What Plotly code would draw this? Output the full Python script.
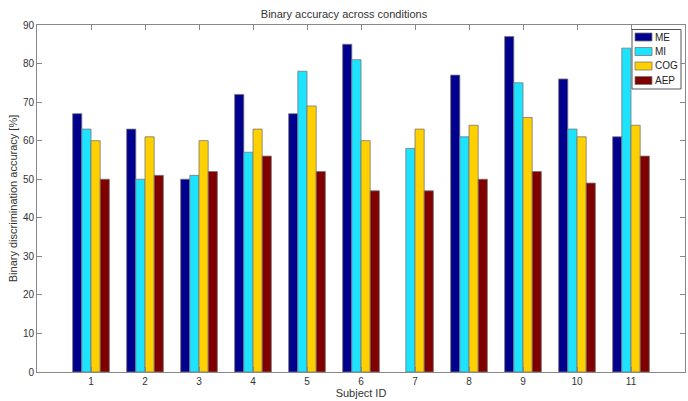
import plotly.graph_objects as go

subjects = [1, 2, 3, 4, 5, 6, 7, 8, 9, 10, 11]
series_names = ["ME", "MI", "COG", "AEP"]
me = [67, 63, 50, 72, 67, 85, None, 77, 87, 76, 61]
mi = [63, 50, 51, 57, 78, 81, 58, 61, 75, 63, 84]
cog = [60, 61, 60, 63, 69, 60, 63, 64, 66, 61, 64]
aep = [50, 51, 52, 56, 52, 47, 47, 50, 52, 49, 56]
y_ticks = [0, 10, 20, 30, 40, 50, 60, 70, 80, 90]

colors = ["#00008F", "#1EE3FF", "#FFD000", "#800000"]
values = [me, mi, cog, aep]

W, H = 688, 401
ML, MR, MT, MB = 37, 3, 25, 29
PW, PH = W - ML - MR, H - MT - MB

def px(x):
    return (x - ML) / PW

def py(y):
    return 1 - (y - MT) / PH

fig = go.Figure()
for name, vals, col in zip(series_names, values, colors):
    fig.add_trace(go.Bar(
        x=subjects, y=vals, name=name, showlegend=False,
        marker=dict(color=col, line=dict(color="#777777", width=0.8)),
    ))

# legend box (drawn manually to match compact MATLAB legend)
shapes = [dict(type="rect", xref="paper", yref="paper",
               x0=px(632), x1=px(681), y0=py(89), y1=py(29.5),
               fillcolor="white", line=dict(color="#555555", width=1))]
annotations = []
for i, (name, col) in enumerate(zip(series_names, colors)):
    top = 33 + i * 14.5
    shapes.append(dict(type="rect", xref="paper", yref="paper",
                       x0=px(635), x1=px(652), y0=py(top + 8), y1=py(top),
                       fillcolor=col, line=dict(color="#777777", width=0.8)))
    annotations.append(dict(text=name, xref="paper", yref="paper",
                            x=px(653), y=py(top + 4), xanchor="left", yanchor="middle",
                            showarrow=False, font=dict(size=10, color="#222222")))

font = "Liberation Sans, Arial, sans-serif"
fig.update_layout(
    width=W, height=H,
    margin=dict(l=ML, r=MR, t=MT, b=MB),
    paper_bgcolor="white", plot_bgcolor="white",
    barmode="group", bargap=0.32, bargroupgap=0.0,
    font=dict(family=font, size=10, color="#333333"),
    title=dict(text="Binary accuracy across conditions", x=0.5, xanchor="center",
               y=0.975, yanchor="top", font=dict(size=11, color="#333333")),
    xaxis=dict(range=[0, 12], tickmode="array", tickvals=subjects,
               ticktext=[str(s) for s in subjects],
               ticks="inside", ticklen=5, tickcolor="#888888",
               showline=True, linecolor="#888888", linewidth=1, mirror="ticks",
               showgrid=False, zeroline=False,
               title=dict(text="Subject ID", standoff=3, font=dict(size=11))),
    yaxis=dict(range=[0, 90], tickmode="array", tickvals=y_ticks,
               ticks="inside", ticklen=5, tickcolor="#888888",
               showline=True, linecolor="#888888", linewidth=1, mirror="ticks",
               showgrid=False, zeroline=False,
               title=dict(text="Binary discrimination accuracy [%]", standoff=3,
                          font=dict(size=11))),
    shapes=shapes,
    annotations=annotations,
)

fig.write_html("out.html")
